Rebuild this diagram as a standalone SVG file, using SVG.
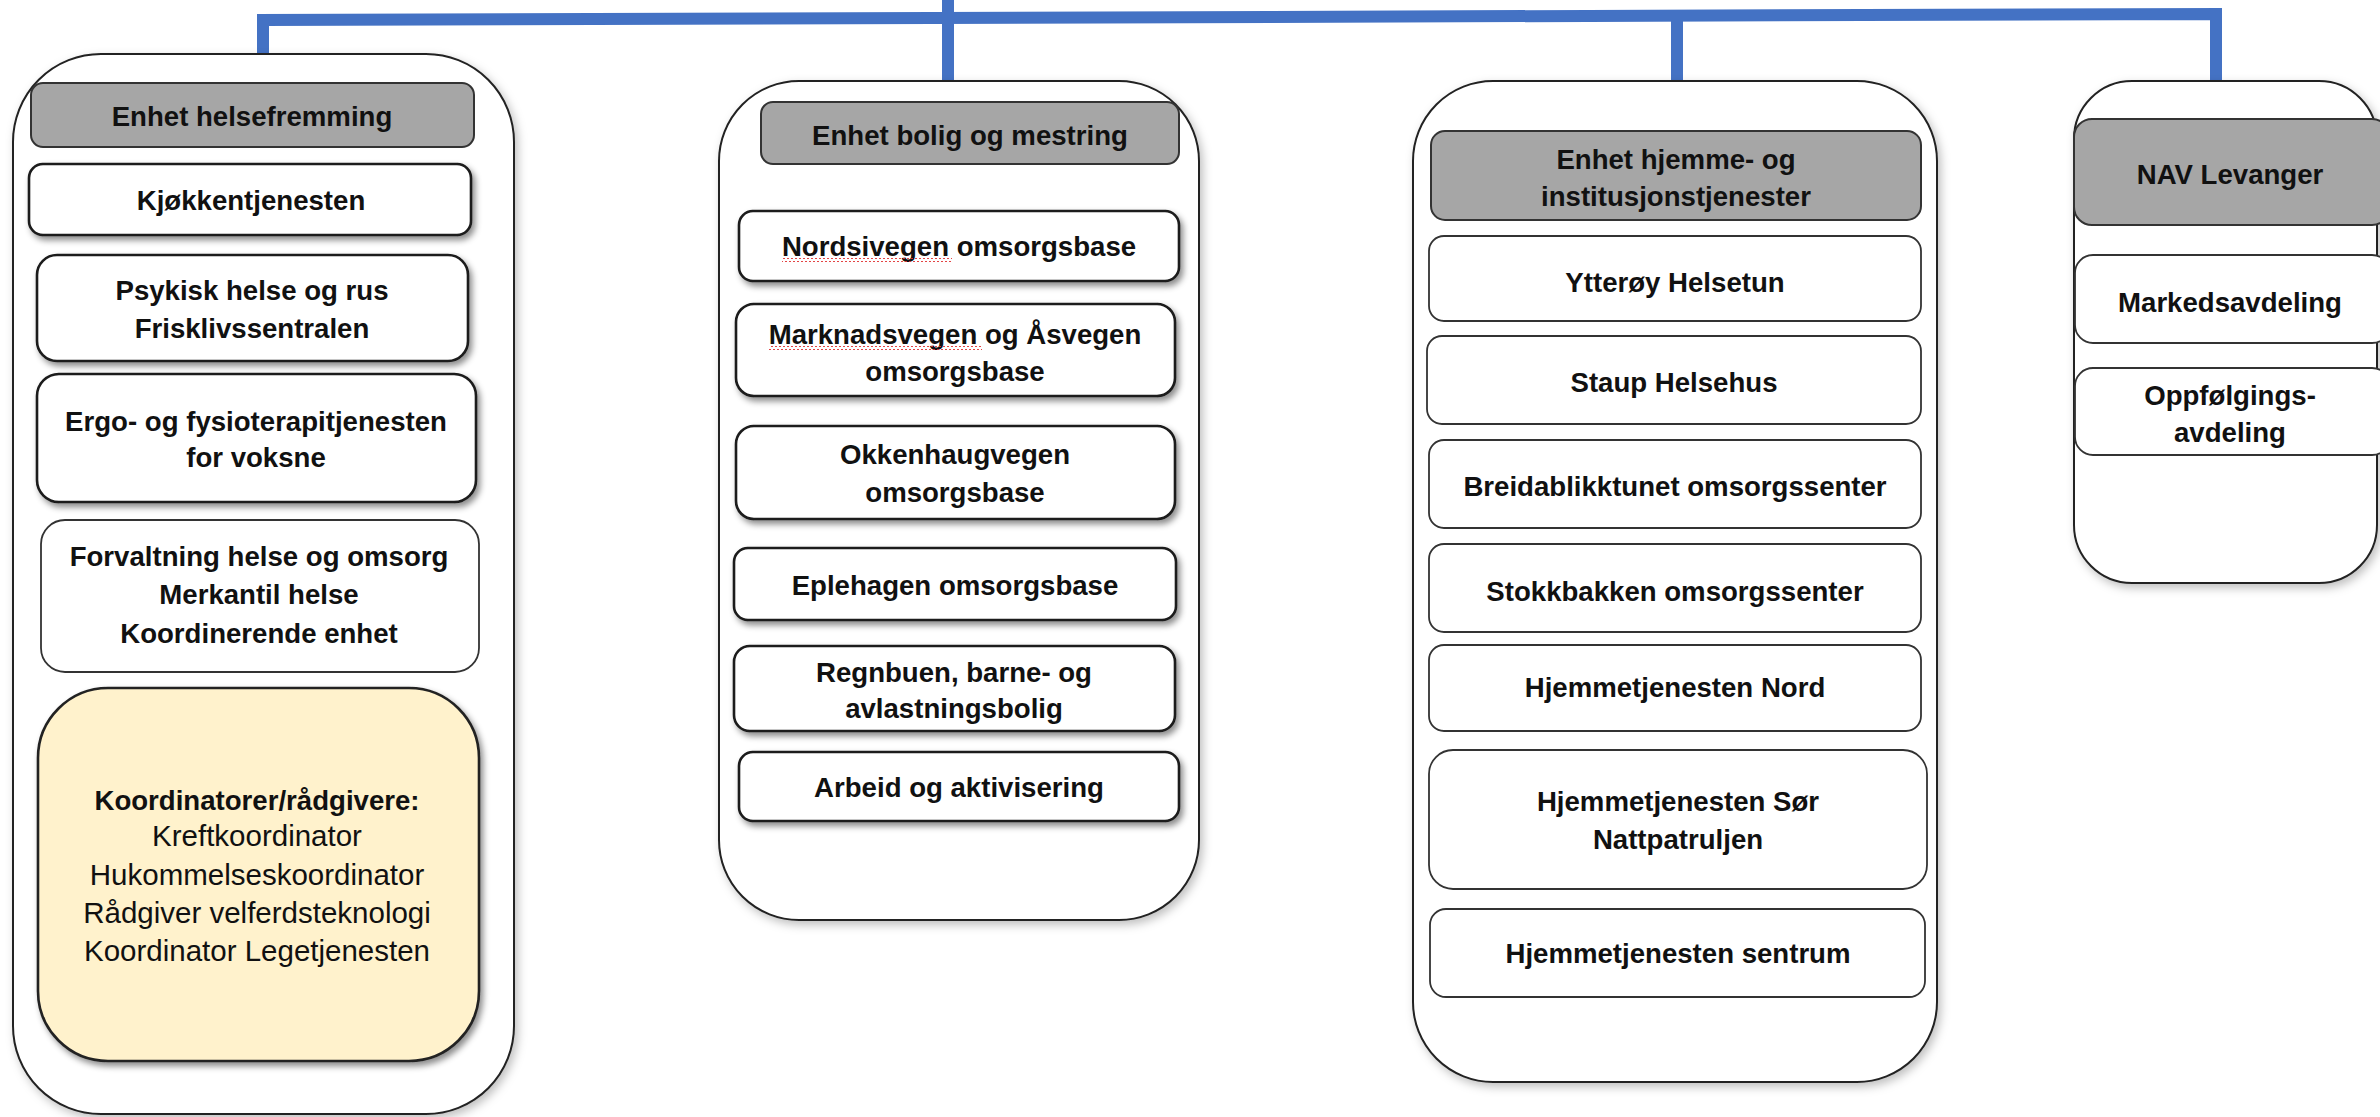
<svg xmlns="http://www.w3.org/2000/svg" width="2380" height="1117" viewBox="0 0 2380 1117">
<defs>
<filter id="sh" x="-10%" y="-20%" width="125%" height="150%">
<feDropShadow dx="3" dy="4" stdDeviation="3" flood-color="#000" flood-opacity="0.45"/>
</filter>
<filter id="glow" x="-10%" y="-10%" width="125%" height="125%">
<feDropShadow dx="3" dy="4" stdDeviation="5" flood-color="#000" flood-opacity="0.25"/>
</filter>
<pattern id="squig" x="0" y="0" width="4" height="4" patternUnits="userSpaceOnUse">
<path d="M0,3 L2,1 L4,3" fill="none" stroke="#E03030" stroke-width="0.9"/>
</pattern>
<style>
.outer{fill:#fff;stroke:#222;stroke-width:2;filter:url(#glow)}
.hdr{fill:#A6A6A6;stroke:#333;stroke-width:2}
.box{fill:#fff;stroke:#1a1a1a;stroke-width:2.6;filter:url(#sh)}
.thin{fill:#fff;stroke:#333;stroke-width:1.8}
.yel{fill:#FFF2CC;stroke:#222;stroke-width:2.6;filter:url(#sh)}
.b{font-family:"Liberation Sans",Arial,sans-serif;font-weight:bold;font-size:27.6px;fill:#111;text-anchor:middle}
.r{font-family:"Liberation Sans",Arial,sans-serif;font-weight:normal;font-size:29.5px;fill:#111;text-anchor:middle}
.conn{fill:none;stroke:#4472C4;stroke-width:12;stroke-linejoin:miter;stroke-linecap:butt}
</style>
</defs>
<rect width="2380" height="1117" fill="#fff"/>

<g id="connectors">
<path class="conn" d="M263,54 L263,20 L2216,14 L2216,81"/>
<path class="conn" d="M948,0 L948,81"/>
<path class="conn" d="M1677,16 L1677,81"/>
</g>

<g id="col-helsefremming">
<rect class="outer" x="13" y="54" width="501" height="1060" rx="88" ry="88"/>
<g id="hdr-helsefremming">
<rect class="hdr" x="31" y="83" width="443" height="64" rx="12"/>
<text class="b" x="252" y="126">Enhet helsefremming</text>
</g>
<g id="kjokken">
<rect class="box" x="29" y="164" width="442" height="71" rx="14"/>
<text class="b" x="251" y="210">Kjøkkentjenesten</text>
</g>
<g id="psykisk">
<rect class="box" x="37" y="255" width="431" height="106" rx="20"/>
<text class="b" x="252" y="300">Psykisk helse og rus</text>
<text class="b" x="252" y="338">Frisklivssentralen</text>
</g>
<g id="ergo">
<rect class="box" x="37" y="374" width="439" height="128" rx="22"/>
<text class="b" x="256" y="431">Ergo- og fysioterapitjenesten</text>
<text class="b" x="256" y="467">for voksne</text>
</g>
<g id="forvaltning">
<rect class="thin" x="41" y="520" width="438" height="152" rx="24"/>
<text class="b" x="259" y="566">Forvaltning helse og omsorg</text>
<text class="b" x="259" y="604">Merkantil helse</text>
<text class="b" x="259" y="643">Koordinerende enhet</text>
</g>
<g id="koordinatorer">
<rect class="yel" x="38" y="688" width="441" height="373" rx="70"/>
<text class="b" x="257" y="810">Koordinatorer/rådgivere:</text>
<text class="r" x="257" y="846">Kreftkoordinator</text>
<text class="r" x="257" y="885">Hukommelseskoordinator</text>
<text class="r" x="257" y="923">Rådgiver velferdsteknologi</text>
<text class="r" x="257" y="961">Koordinator Legetjenesten</text>
</g>
</g>

<g id="col-bolig">
<rect class="outer" x="719" y="81" width="480" height="839" rx="80" ry="80"/>
<g id="hdr-bolig">
<rect class="hdr" x="761" y="102" width="418" height="62" rx="12"/>
<text class="b" x="970" y="145">Enhet bolig og mestring</text>
</g>
<g id="nordsivegen">
<rect class="box" x="739" y="211" width="440" height="70" rx="14"/>
<text class="b" x="959" y="256">Nordsivegen omsorgsbase</text>
<rect x="782" y="258" width="170" height="4" fill="url(#squig)"/>
</g>
<g id="marknadsvegen">
<rect class="box" x="736" y="304" width="439" height="92" rx="18"/>
<text class="b" x="955" y="344">Marknadsvegen og Åsvegen</text>
<text class="b" x="955" y="381">omsorgsbase</text>
<rect x="769" y="346" width="213" height="4" fill="url(#squig)"/>
</g>
<g id="okkenhaug">
<rect class="box" x="736" y="426" width="439" height="93" rx="18"/>
<text class="b" x="955" y="464">Okkenhaugvegen</text>
<text class="b" x="955" y="502">omsorgsbase</text>
</g>
<g id="eplehagen">
<rect class="box" x="734" y="548" width="442" height="72" rx="14"/>
<text class="b" x="955" y="595">Eplehagen omsorgsbase</text>
</g>
<g id="regnbuen">
<rect class="box" x="734" y="646" width="441" height="85" rx="16"/>
<text class="b" x="954" y="682">Regnbuen, barne- og</text>
<text class="b" x="954" y="718">avlastningsbolig</text>
</g>
<g id="arbeid">
<rect class="box" x="739" y="752" width="440" height="69" rx="14"/>
<text class="b" x="959" y="797">Arbeid og aktivisering</text>
</g>
</g>

<g id="col-hjemme">
<rect class="outer" x="1413" y="81" width="524" height="1001" rx="80" ry="80"/>
<g id="hdr-hjemme">
<rect class="hdr" x="1431" y="131" width="490" height="89" rx="14"/>
<text class="b" x="1676" y="169">Enhet hjemme- og</text>
<text class="b" x="1676" y="206">institusjonstjenester</text>
</g>
<g id="ytteroy">
<rect class="thin" x="1429" y="236" width="492" height="85" rx="15"/>
<text class="b" x="1675" y="292">Ytterøy Helsetun</text>
</g>
<g id="staup">
<rect class="thin" x="1427" y="336" width="494" height="88" rx="15"/>
<text class="b" x="1674" y="392">Staup Helsehus</text>
</g>
<g id="breidablikk">
<rect class="thin" x="1429" y="440" width="492" height="88" rx="15"/>
<text class="b" x="1675" y="496">Breidablikktunet omsorgssenter</text>
</g>
<g id="stokkbakken">
<rect class="thin" x="1429" y="544" width="492" height="88" rx="15"/>
<text class="b" x="1675" y="601">Stokkbakken omsorgssenter</text>
</g>
<g id="hj-nord">
<rect class="thin" x="1429" y="645" width="492" height="86" rx="15"/>
<text class="b" x="1675" y="697">Hjemmetjenesten Nord</text>
</g>
<g id="hj-sor">
<rect class="thin" x="1429" y="750" width="498" height="139" rx="24"/>
<text class="b" x="1678" y="811">Hjemmetjenesten Sør</text>
<text class="b" x="1678" y="849">Nattpatruljen</text>
</g>
<g id="hj-sentrum">
<rect class="thin" x="1430" y="909" width="495" height="88" rx="16"/>
<text class="b" x="1678" y="963">Hjemmetjenesten sentrum</text>
</g>
</g>

<g id="col-nav">
<rect class="outer" x="2074" y="81" width="303" height="502" rx="58" ry="58"/>
<g id="hdr-nav">
<rect class="hdr" x="2074" y="119" width="316" height="106" rx="18"/>
<text class="b" x="2230" y="184">NAV Levanger</text>
</g>
<g id="markedsavdeling">
<rect class="thin" x="2075" y="255" width="315" height="88" rx="18"/>
<text class="b" x="2230" y="312">Markedsavdeling</text>
</g>
<g id="oppfolging">
<rect class="thin" x="2075" y="368" width="315" height="87" rx="18"/>
<text class="b" x="2230" y="405">Oppfølgings-</text>
<text class="b" x="2230" y="442">avdeling</text>
</g>
</g>
</svg>
